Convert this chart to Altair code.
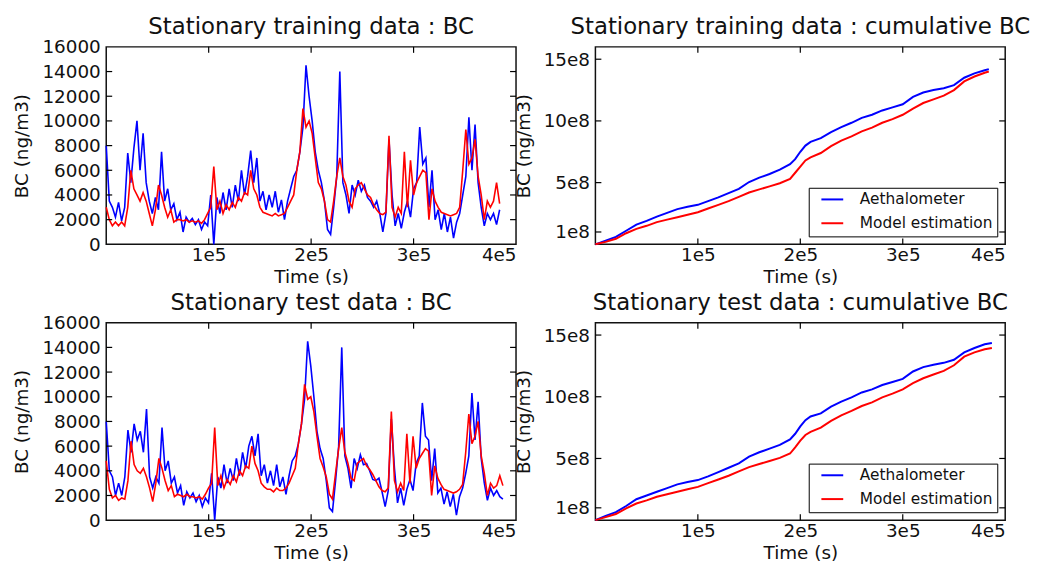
import altair as alt
import pandas as pd

FONT = "DejaVu Sans"
W, H = 413, 199
TXT = "#111111"

# ---- time grids (s) ----
train_step = 3000
test_step = 3025

train_blue = [8000, 3500, 3000, 2200, 3400, 1900, 3000, 7400, 5000, 7800,
              10000, 6000, 9000, 5000, 3500, 2500, 3800, 2800, 7500, 3500,
              4500, 2800, 3300, 2000, 2600, 1000, 2200, 1800, 2100, 1600,
              2000, 1200, 1800, 1500, 4000, 0, 3800, 2500, 4200, 2800,
              4500, 3000, 4800, 3500, 6000, 4000, 5500, 7600, 5000, 7000,
              3500, 4300, 2800, 4000, 3000, 4300, 2600, 3600, 2000, 3500,
              4500, 5500, 6000, 7500, 9500, 14500, 12000, 10000, 7500, 6000,
              5000, 3500, 1200, 800, 3000, 5500, 14000, 5000, 4000, 2500,
              4800, 4000, 5200, 4300, 4800, 3800, 3500, 3000, 3500, 2500,
              1000, 2500, 8500, 4000, 1500, 2500, 1300, 2600, 3500, 2200,
              4500, 5000, 9500, 6500, 7000, 3000, 6000, 2000, 2800, 1200,
              2500, 1000, 2200, 500, 1800, 2500, 4000, 5500, 10300, 6000,
              9700, 5000, 3000, 1500, 2500, 2000, 2500, 1600, 2800]
train_red = [3000, 2000, 1500, 1800, 1500, 1800, 1500, 3000, 6000, 4500,
             4000, 3500, 4200, 3500, 2500, 1500, 2800, 4800, 4000, 3000,
             2200, 2800, 1800, 2000, 2000, 1900, 2000, 1800, 1900, 1800,
             1900, 1700, 2000, 2500, 3000, 6300, 2800, 3500, 2500, 3200,
             2800, 3400, 3000, 3800, 3500, 4200, 4000, 6000, 4500, 4000,
             3000, 2600, 2500, 2400, 2300, 2500, 2300, 2400, 2500, 3000,
             3500, 4000, 6000, 7500, 11000, 9500, 10000, 9000, 7000, 5000,
             4500, 3500, 2000, 1800, 3500, 5500, 7000, 5500, 4800, 3500,
             3000, 4500, 4800, 5000, 4500, 4000, 3800, 3200, 2800, 2500,
             2400, 2600, 8800, 3000, 2200, 3000, 2500, 7500, 3000, 6800,
             4000, 5000, 5500, 6000, 5800, 2000, 4500, 3500, 3000, 2600,
             2500, 2400, 2300, 2400, 2500, 3000, 6000, 9300, 6500, 7000,
             8500, 5500, 4000, 2000, 3500, 3000, 3500, 5000, 3300]
test_blue = [8000, 4000, 3500, 2000, 3000, 2000, 3500, 7300, 5500, 7800,
             6500, 7200, 5500, 9000, 3500, 2600, 3500, 3000, 7500, 4000,
             4800, 3000, 3500, 2200, 2800, 1200, 2300, 1800, 2200, 1500,
             2000, 1100, 1800, 1400, 3800, 0, 3500, 2600, 4500, 3000,
             4200, 3200, 5000, 3600, 5500, 4200, 6000, 6800, 5200, 7000,
             3600, 4500, 3000, 4000, 2800, 4500, 2700, 3500, 2100, 3600,
             4800, 5200, 6200, 7800, 9800, 14500, 12500, 10000, 7200, 5800,
             5000, 3200, 1000, 700, 3200, 6000, 14000, 5200, 4200, 2600,
             5000, 4200, 5300, 4500, 4600, 4000, 3300, 3200, 3400, 2300,
             1100, 2400, 8200, 4200, 1400, 2600, 1200, 2500, 3300, 2400,
             4600, 5200, 9500, 6800, 6500, 3200, 5800, 2200, 2600, 1300,
             2300, 1100, 2100, 400, 1900, 2600, 3800, 5200, 10300, 6500,
             9600, 5000, 3000, 1600, 2600, 2000, 2400, 1900, 1700]
test_red = [4800, 2500, 1800, 2000, 1600, 1800, 1700, 3200, 6400, 4500,
            4000, 3800, 4200, 3500, 2600, 1500, 3000, 5000, 4200, 3200,
            2400, 2800, 1900, 2100, 2000, 1900, 2100, 1900, 1900, 1800,
            1900, 1700, 2100, 2600, 3000, 7500, 2800, 3600, 2600, 3300,
            2900, 3600, 3100, 4000, 3600, 4400, 4200, 6000, 4600, 4000,
            3000, 2700, 2500, 2500, 2300, 2600, 2400, 2400, 2600, 3000,
            3600, 4200, 6200, 7800, 11000, 9800, 10000, 8800, 6800, 5000,
            4300, 3500, 2100, 1700, 3800, 5800, 7500, 5500, 4600, 3400,
            3200, 4600, 4800, 5000, 4400, 4100, 3700, 3200, 2700, 2400,
            2300, 2600, 8800, 3200, 2300, 3000, 2400, 7000, 3000, 6800,
            4200, 5000, 5400, 5800, 5600, 2000, 4400, 3400, 2900, 2500,
            2400, 2300, 2200, 2300, 2500, 2900, 5500, 8600, 6200, 6800,
            8000, 5200, 3800, 2000, 3000, 2600, 2800, 3600, 2800]

# ---- cumulative BC (units of 1e8 ng/m3 * s) ----
cum_t_train = [0, 10000, 20000, 30000, 40000, 50000, 60000, 70000, 80000, 90000,
               100000, 110000, 120000, 130000, 140000, 150000, 160000, 170000, 180000, 190000,
               195000, 200000, 205000, 210000, 220000, 230000, 240000, 250000, 260000, 270000,
               280000, 290000, 300000, 310000, 320000, 330000, 340000, 350000, 360000, 370000,
               380000, 384000]
cum_t_test = cum_t_train[:-1] + [387000]
cum_blue_train = [0, 0.3, 0.6, 1.1, 1.6, 1.9, 2.25, 2.55, 2.85, 3.05, 3.2, 3.5, 3.8, 4.15,
                  4.5, 5.05, 5.4, 5.7, 6.05, 6.5, 6.9, 7.5, 8.0, 8.3, 8.6, 9.1, 9.5, 9.85,
                  10.25, 10.5, 10.85, 11.1, 11.35, 11.95, 12.3, 12.5, 12.65, 12.9, 13.5,
                  13.85, 14.1, 14.2]
cum_red_train = [0, 0.2, 0.45, 0.9, 1.25, 1.5, 1.8, 2.0, 2.2, 2.4, 2.6, 2.9, 3.2, 3.5,
                 3.85, 4.2, 4.45, 4.7, 4.95, 5.3, 5.8, 6.3, 6.8, 7.05, 7.4, 7.95, 8.4, 8.75,
                 9.15, 9.45, 9.85, 10.15, 10.5, 11.0, 11.45, 11.75, 12.05, 12.5, 13.2,
                 13.6, 13.9, 14.0]
cum_blue_test = [0, 0.35, 0.65, 1.15, 1.7, 2.0, 2.3, 2.6, 2.9, 3.1, 3.25, 3.55, 3.9, 4.25,
                 4.6, 5.15, 5.5, 5.8, 6.1, 6.55, 7.0, 7.6, 8.1, 8.4, 8.65, 9.2, 9.6, 9.95,
                 10.35, 10.6, 10.95, 11.2, 11.45, 12.05, 12.4, 12.6, 12.75, 13.0, 13.6,
                 13.95, 14.25, 14.35]
cum_red_test = [0, 0.25, 0.5, 0.95, 1.35, 1.6, 1.9, 2.1, 2.3, 2.5, 2.7, 3.0, 3.3, 3.6,
                3.95, 4.3, 4.55, 4.8, 5.05, 5.4, 5.9, 6.45, 6.9, 7.15, 7.5, 8.05, 8.5, 8.85,
                9.25, 9.55, 9.95, 10.25, 10.6, 11.1, 11.5, 11.8, 12.1, 12.55, 13.25,
                13.6, 13.85, 13.95]

series_names = ["Aethalometer", "Model estimation"]
series_colors = ["#0000ff", "#ff0000"]

bc_yticks = [0, 2000, 4000, 6000, 8000, 10000, 12000, 14000, 16000]
time_ticks = [100000, 200000, 300000, 400000]
cum_yticks = [1e8, 5e8, 10e8, 15e8]

TICK = 6


def title_layer(text):
    return alt.Chart(pd.DataFrame({"label": [text]})).mark_text(
        font=FONT, fontSize=23, color=TXT, align="center", baseline="alphabetic"
    ).encode(text="label:N", x=alt.value(W / 2), y=alt.value(-13))


def axis_common(**kw):
    base = dict(grid=False, domain=False, ticks=False, tickSize=0,
                labelFont=FONT, labelFontSize=18.5, labelColor=TXT,
                titleFont=FONT, titleFontSize=18.5, titleColor=TXT,
                titleFontWeight="normal", labelOverlap=False)
    base.update(kw)
    return alt.Axis(**base)


def tick_layers(xvals, yvals, xscale, yscale, xax, yax):
    xt = pd.DataFrame({"v": xvals})
    yt = pd.DataFrame({"v": yvals})
    mk = dict(color="black", strokeWidth=1.2)
    xe = alt.X("v:Q", scale=xscale, axis=xax)
    ye = alt.Y("v:Q", scale=yscale, axis=yax)
    return [
        alt.Chart(xt).mark_rule(**mk).encode(x=xe, y=alt.value(H), y2=alt.value(H - TICK)),
        alt.Chart(xt).mark_rule(**mk).encode(x=xe, y=alt.value(0), y2=alt.value(TICK)),
        alt.Chart(yt).mark_rule(**mk).encode(y=ye, x=alt.value(0), x2=alt.value(TICK)),
        alt.Chart(yt).mark_rule(**mk).encode(y=ye, x=alt.value(W), x2=alt.value(W - TICK)),
    ]


def bc_panel(title, blue, red, step):
    t = [i * step for i in range(len(blue))]
    dfb = pd.DataFrame({"t": t, "v": blue})
    dfr = pd.DataFrame({"t": t, "v": red})
    xs = alt.Scale(domain=[0, 400000], nice=False, zero=False)
    ys = alt.Scale(domain=[0, 16000], nice=False)
    xax = axis_common(title="Time (s)", values=time_ticks,
                      labelExpr="datum.value/100000 + 'e5'", labelPadding=1, titlePadding=4)
    yax = axis_common(title="BC (ng/m3)", values=bc_yticks, format="d",
                      labelPadding=6, titlePadding=10)
    blue_line = alt.Chart(dfb).mark_line(color=series_colors[0], strokeWidth=1.6).encode(
        x=alt.X("t:Q", scale=xs, axis=xax), y=alt.Y("v:Q", scale=ys, axis=yax))
    red_line = alt.Chart(dfr).mark_line(color=series_colors[1], strokeWidth=1.6).encode(
        x=alt.X("t:Q", scale=xs, axis=xax), y=alt.Y("v:Q", scale=ys, axis=yax))
    ticks = tick_layers([100000, 200000, 300000], bc_yticks[1:-1], xs, ys, xax, yax)
    return alt.layer(blue_line, red_line, *ticks, title_layer(title)).properties(
        width=W, height=H)


def cum_panel(title, tt, blue, red):
    rows = []
    for name, vals in zip(series_names, [blue, red]):
        for ti, v in zip(tt, vals):
            rows.append({"t": ti, "v": v * 1e8, "series": name})
    df = pd.DataFrame(rows)
    xs = alt.Scale(domain=[0, 400000], nice=False, zero=False)
    ys = alt.Scale(domain=[0, 16e8], nice=False)
    xax = axis_common(title="Time (s)", values=time_ticks,
                      labelExpr="datum.value/100000 + 'e5'", labelPadding=1, titlePadding=4)
    yax = axis_common(title="BC (ng/m3)", values=cum_yticks,
                      labelExpr="datum.value/100000000 + 'e8'", labelPadding=6, titlePadding=10)
    leg = alt.Legend(title=None, orient="bottom-right", offset=8, padding=4,
                     strokeColor="black", fillColor="white", cornerRadius=0,
                     symbolType="M-2.75,0H2.75", symbolSize=64, symbolStrokeWidth=2,
                     symbolOffset=12, labelOffset=20,
                     labelFont=FONT, labelFontSize=15.5, labelColor=TXT, rowPadding=7)
    lines = alt.Chart(df).mark_line(strokeWidth=2).encode(
        x=alt.X("t:Q", scale=xs, axis=xax),
        y=alt.Y("v:Q", scale=ys, axis=yax),
        color=alt.Color("series:N", scale=alt.Scale(domain=series_names, range=series_colors),
                        legend=leg),
    )
    ticks = tick_layers([100000, 200000, 300000], cum_yticks, xs, ys, xax, yax)
    return alt.layer(lines, *ticks, title_layer(title)).properties(width=W, height=H)


p1 = bc_panel("Stationary training data : BC", train_blue, train_red, train_step)
p2 = cum_panel("Stationary training data : cumulative BC", cum_t_train, cum_blue_train, cum_red_train)
p3 = bc_panel("Stationary test data : BC", test_blue, test_red, test_step)
p4 = cum_panel("Stationary test data : cumulative BC", cum_t_test, cum_blue_test, cum_red_test)

chart = alt.concat(p1, p2, p3, p4, columns=2,
                   spacing={"row": 79, "column": 80}, bounds="flush").resolve_scale(
    color="independent").resolve_legend(color="independent").properties(
    padding={"left": 4, "top": 5, "right": 0, "bottom": 0}, background="white"
).configure_view(stroke="#111111", strokeWidth=1.5)

chart.save("out.html", embed_options={"renderer": "svg", "actions": False})
